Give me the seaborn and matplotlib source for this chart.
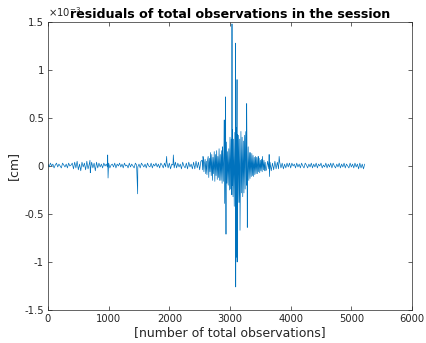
import numpy as np
import matplotlib
matplotlib.use("Agg")
import matplotlib.pyplot as plt
from matplotlib.ticker import FuncFormatter
import seaborn as sns


# residuals, in hundredths of the axis unit (x10^-3 cm)
# quiet part before the burst, one sample every 20 observations
obs_left = np.arange(0, 2540, 20)
res_left = [2, -1, 3, 0, 2, -2, 1, 3, -1, 2, 0, -2, 3, 1, -1, 2, -2, 3, 0, 1,
            3, -3, 4, -2, 5, -4, 2, -5, 4, -1, 3, -4, 5, -3, 2, -4, 4, -2, 3, -5,
            4, -2, 3, -1, 2, -2, 3, 0, 2, -1, 3, -2, 1, 2, -1, 3, -2, 2, 0, 3,
            -1, 2, -2, 3, 0, 1, -2, 3, -1, 2, 0, -2, 3, 1, -1, 2, -2, 3, 1, -1,
            2, -2, 3, 0, -1, 3, -2, 2, 0, 3, -1, 2, -2, 3, 1, -2, 3, -1, 4, -2,
            3, -3, 2, 1, -2, 4, -2, 3, -1, 2, -3, 4, 0, -2, 3, -3, 4, -1, 2, -3,
            4, -3, 5, -2, 4, -4, 5]

# burst around obs 3000, one sample every 10 observations
obs_burst = np.arange(2540, 3600, 10)
res_burst = [6, -4, 8, -6, 3, 7, -8, 5, -9, 6,
             10, -12, 8, -6, 14, -10, 12, -15, 9, -8,
             15, -16, 12, -10, 16, -14, 10, -12, 18, -15,
             12, -15, 16, -18, 12, -16, 20, -22, 24, -20,
             25, -18, 15, -20, 18, -25, 30, -24, 28, -30,
             38, -32, 28, -42, 35, -38, 40, -36, 33, -38,
             32, -38, 28, -33, 36, -28, 30, -32, 26, -28,
             32, -24, 28, -20, 18, -16, 20, -15, 14, -13,
             14, -11, 13, -10, 11, -11, 9, -9, 10, -8,
             9, -8, 7, -6, 8, -7, 6, -5, 7, -6,
             5, -4, 6, -5, 4, -5]

# quiet part after the burst
obs_right = np.arange(3600, 5240, 20)
res_right = [-4, 5, -3, 4, -5, 3, -4, 5, -3, 4,
             -3, 4, -2, 3, -3, 2, -2, 3, -1, 3,
             -2, 3, 0, 2, -2, 3, -1, 2, -2, 3,
             0, -2, 3, 1, -2, 2, -1, 3, -2, 2,
             -1, 3, -2, 2, 0, 3, -2, 1, -1, 3,
             -2, 2, -1, 3, -2, 3, 0, -2, 2, -1,
             3, -2, 2, -1, 3, -2, 2, 0, -2, 3,
             -1, 2, -2, 3, -1, 2, -3, 3, -2, 2,
             -3, 2]

# single outliers
spike_obs = [692, 697, 984, 990, 1478, 1956, 2066, 2555,
             2875, 2905, 2912, 2928, 2934, 3033, 3036, 3091, 3094,
             3107, 3116, 3118, 3165, 3265, 3275, 3285,
             3465, 3535, 3645, 3650, 3810]
spike_res = [6, -7, 11.5, -12.5, -29, 10, 11.5, 10,
             20, 48, -39, 72, -71, 148, -20, 128, -126,
             -95, 90, -100, -67, 36, 65, -64,
             10, 10, 12, -11, 10]

obs = np.concatenate([obs_left, obs_burst, obs_right, spike_obs])
res = np.concatenate([res_left, res_burst, res_right, spike_res]) / 100
order = np.argsort(obs, kind="stable")
obs = obs[order]
res = res[order]

sns.set_style("ticks")
plt.rcParams["font.family"] = ["DejaVu Sans"]
plt.rcParams["axes.unicode_minus"] = False

fig = plt.figure(figsize=(4.27, 3.43), dpi=100)
ax = fig.add_axes([48 / 427, 33 / 343, 364 / 427, 288 / 343])

sns.lineplot(x=obs, y=res, estimator=None, sort=False, ax=ax,
             color="#0072BD", linewidth=0.5)

ax.set_xlim(0, 6000)
ax.set_ylim(-1.5, 1.5)
ax.set_xticks([0, 1000, 2000, 3000, 4000, 5000, 6000])
ax.set_yticks([-1.5, -1, -0.5, 0, 0.5, 1, 1.5])
ax.yaxis.set_major_formatter(FuncFormatter(lambda v, p: "%g" % v))

axcol = "#262626"
for s in ax.spines.values():
    s.set_visible(True)
    s.set_linewidth(0.5)
    s.set_color(axcol)
ax.tick_params(direction="in", top=True, right=True, length=3, width=0.5,
               labelsize=7.2, colors=axcol, pad=3)

ax.set_xlabel("[number of total observations]", fontsize=9, color=axcol, labelpad=1)
ax.set_ylabel("[cm]", fontsize=9, color=axcol, labelpad=3)
# axis multiplier, partly hidden under the title as in the original
ax.text(0.0, 1.01, r"$\times 10^{-3}$", transform=ax.transAxes, fontsize=7.2,
        color=axcol, ha="left", va="bottom")
ax.set_title("residuals of total observations in the session", fontsize=9.1,
             fontweight="bold", color="black", y=1.0, pad=3)

fig.savefig("out.png", dpi=100)
